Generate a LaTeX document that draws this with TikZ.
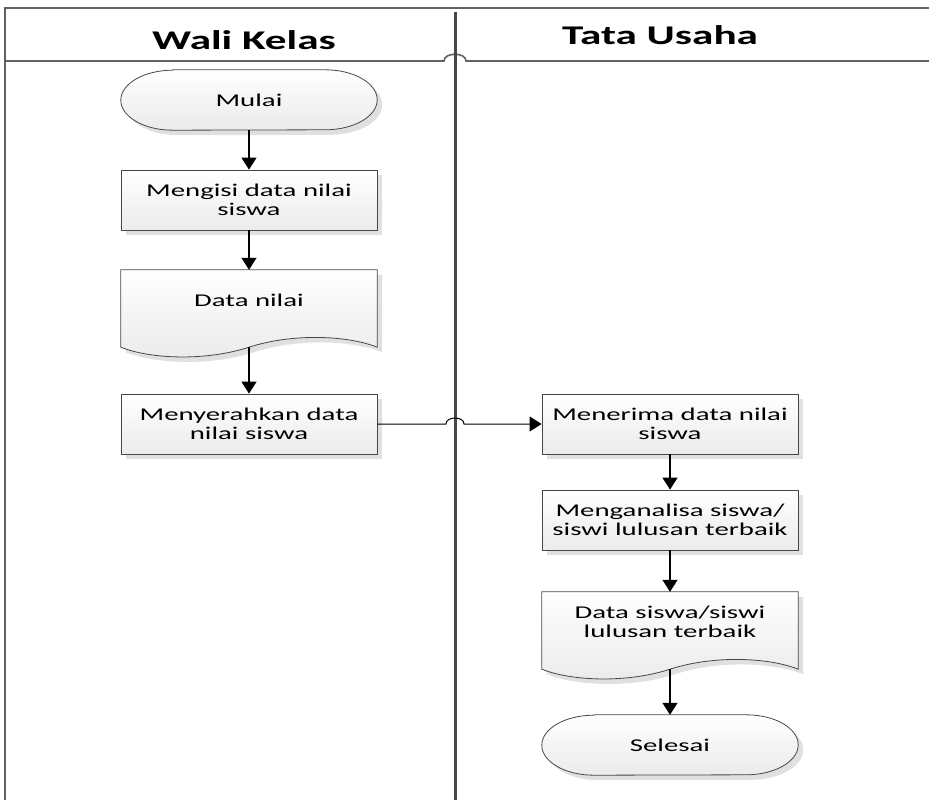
\documentclass[tikz,border=0pt]{standalone}
\usepackage{fontspec}
\setmainfont{Carlito}[FakeStretch=1.6]
\usetikzlibrary{arrows.meta,shadows}
\pgfdeclarelayer{background}
\pgfsetlayers{background,main}

% outline of a terminator: flat top/bottom with elliptical ends
\newcommand\termpath[1]{([xshift=52pt]#1.north west) -- ([xshift=-52pt]#1.north east)
  arc[start angle=90,end angle=-90,x radius=52pt,y radius=30pt]
  -- ([xshift=52pt]#1.south west)
  arc[start angle=270,end angle=90,x radius=52pt,y radius=30pt] -- cycle}

% outline of a document symbol: rectangle with a wavy lower edge
\newcommand\docpath[1]{(#1.north west) -- (#1.north east) -- ([yshift=-17pt]#1.south east)
  .. controls ([shift={(-30pt,-5pt)}]#1.south east) and ([shift={(43pt,-3pt)}]#1.south) .. ([yshift=-17pt]#1.south)
  .. controls ([shift={(-43pt,-31pt)}]#1.south) and ([shift={(30pt,-29pt)}]#1.south west) .. ([yshift=-17pt]#1.south west)
  -- cycle}

\begin{document}
\begin{tikzpicture}[x=1pt,y=-1pt,
  lane/.style={draw=black!62, line width=1.6pt},
  divider/.style={draw=black!72, line width=3pt},
  heading/.style={font=\bfseries\fontsize{27}{30}\selectfont},
  label/.style={font=\fontsize{18}{19}\selectfont, align=center, text=black},
  shapefill/.style={top color=white, bottom color=black!8, draw=black!72, line width=0.8pt,
    drop shadow={shadow xshift=5pt, shadow yshift=-5pt, fill=black!12, opacity=1}},
  holder/.style={label, minimum width=256pt, minimum height=60pt, inner sep=0pt},
  procbox/.style={holder, shapefill},
  conn/.style={draw=black, line width=1.3pt, -{Triangle[length=12pt,width=15pt]}},
]
\useasboundingbox (0,0) rectangle (929,800);

% swimlane frame
\coordinate (frameTL) at (5,8);
\coordinate (frameTR) at (929,8);
\coordinate (frameBL) at (5,800);
\coordinate (headL) at (5,61);
\coordinate (headR) at (929,61);
\coordinate (divTop) at (455,12);
\coordinate (divBot) at (455,800);
\draw[lane] (frameBL) -- (frameTL) -- (frameTR);
\draw[lane] (headL) -- (444,61) .. controls (444,52) and (466,52) .. (466,61) -- (headR);
\draw[divider] (divTop) -- (divBot);

\node[heading] (laneA) at (244,40) {Wali Kelas};
\node[heading] (laneB) at (660,35) {Tata Usaha};

% left lane
\node[holder] (start) at (249,100) {Mulai};
\node[procbox] (fill) at (249,200) {Mengisi data nilai\\siswa};
\node[holder] (doc1) at (249,300) {Data nilai};
\node[procbox] (give) at (249,424) {Menyerahkan data\\nilai siswa};

% right lane
\node[procbox] (recv) at (670,424) {Menerima data nilai\\siswa};
\node[procbox] (anal) at (670,520) {Menganalisa siswa/\\siswi lulusan terbaik};
\node[holder] (doc2) at (670,622) {Data siswa/siswi\\lulusan terbaik};
\node[holder] (stop) at (670,745) {Selesai};

\begin{pgfonlayer}{background}
  \path[shapefill] \termpath{start};
  \path[shapefill] \termpath{stop};
  \path[shapefill] \docpath{doc1};
  \path[shapefill] \docpath{doc2};
\end{pgfonlayer}

% wave midpoints of the document symbols
\coordinate (doc1b) at ([yshift=-17pt]doc1.south);
\coordinate (doc2b) at ([yshift=-17pt]doc2.south);

% connectors
\draw[conn] (start.south) -- (fill.north);
\draw[conn] (fill.south) -- (doc1.north);
\draw[conn] (doc1b) -- (give.north);
\coordinate (hopL) at (446,424);
\coordinate (hopR) at (464,424);
\draw[conn, line width=1pt] (give.east) -- (hopL) .. controls ([yshift=8pt]hopL) and ([yshift=8pt]hopR) .. (hopR) -- (recv.west);
\draw[conn] (recv.south) -- (anal.north);
\draw[conn] (anal.south) -- (doc2.north);
\draw[conn] (doc2b) -- (stop.north);
\end{tikzpicture}
\end{document}
